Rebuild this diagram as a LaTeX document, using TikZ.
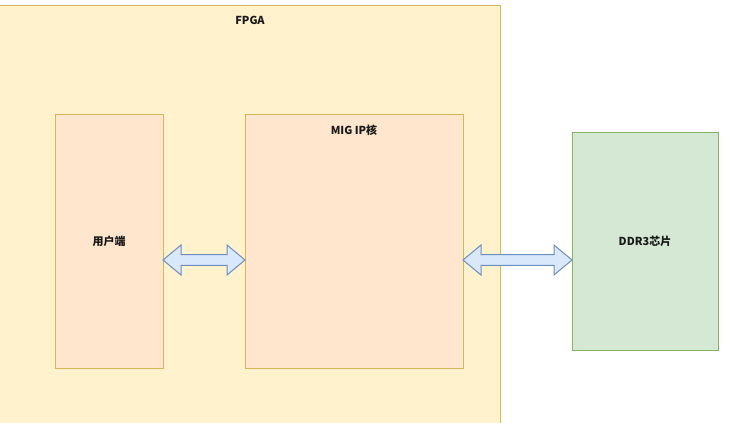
\documentclass[tikz,border=0pt]{standalone}
\usepackage{fontspec}
\setmainfont{Noto Sans CJK SC}
\usepackage{tikz}
\usetikzlibrary{positioning,calc}
\definecolor{fpgafill}{HTML}{FFF2CC}
\definecolor{fpgaline}{HTML}{D6B656}
\definecolor{blkfill}{HTML}{FFE6CC}
\definecolor{ddrfill}{HTML}{D5E8D4}
\definecolor{ddrline}{HTML}{82B366}
\definecolor{arrfill}{HTML}{DAE8FC}
\definecolor{arrline}{HTML}{6C8EBF}
\tikzstyle{dblarr} = [draw=arrline, fill=arrfill, line width=0.75pt, line join=miter]
% block arrow between two nodes, at height #3
\newcommand{\dblarrow}[3]{%
  \draw[dblarr] let \p1=(#1.east), \p2=(#2.west), \p3=(0,#3) in
    (\x1,\y3) -- (\x1+13.5pt,\y3+11.25pt) -- (\x1+13.5pt,\y3+4.1pt)
    -- (\x2-13.5pt,\y3+4.1pt) -- (\x2-13.5pt,\y3+11.25pt) -- (\x2,\y3)
    -- (\x2-13.5pt,\y3-11.25pt) -- (\x2-13.5pt,\y3-4.1pt)
    -- (\x1+13.5pt,\y3-4.1pt) -- (\x1+13.5pt,\y3-11.25pt) -- cycle;}

\begin{document}
\begin{tikzpicture}[
      x=0.75pt, y=-0.75pt,
      every node/.style={font=\fontsize{8.25pt}{10pt}\selectfont\bfseries, text=black!90},
      blk/.style={
          rectangle,
          draw=fpgaline,
          fill=blkfill,
          line width=0.75pt,
          outer sep=0pt,
          inner sep=0pt,
        }
    ]
    \clip (0,0) rectangle (753,422);

    % FPGA frame
    \node[blk, fill=fpgafill, minimum width=375.75pt, minimum height=318.75pt,
          label={[name=fpgalbl, anchor=north, yshift=-5pt]north:FPGA}] (fpga) at (250,217.5) {};

    % user side
    \node[blk, minimum width=81pt, minimum height=190.5pt] (user) at (109,241) {用户端};

    % MIG core
    \node[blk, right=61.5pt of user, minimum width=163.5pt, minimum height=190.5pt,
          label={[name=miglbl, anchor=north, yshift=-5pt]north:MIG IP核}] (mig) {};

    % DDR3 chip
    \node[blk, draw=ddrline, fill=ddrfill, right=81.75pt of mig,
          minimum width=109.5pt, minimum height=163.5pt] (ddr) {DDR3芯片};

    % Connections
    \dblarrow{user}{mig}{260}
    \dblarrow{mig}{ddr}{260}

\end{tikzpicture}
\end{document}
